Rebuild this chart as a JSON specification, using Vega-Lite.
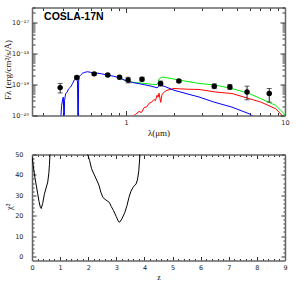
{
  "$schema": "https://vega.github.io/schema/vega-lite/v6.json",
  "padding": {"left": 3, "top": 4.5, "right": 2, "bottom": 2},
  "bounds": "flush",
  "spacing": 39,
  "config": {
    "view": {"stroke": null},
    "axis": {
      "grid": false,
      "labelFont": "DejaVu Sans",
      "labelFontSize": 6.5,
      "labelColor": "#222",
      "labelFlush": false,
      "labelOverlap": false,
      "titleFont": "Liberation Serif",
      "titleFontSize": 9,
      "titleFontWeight": "normal",
      "titleColor": "#111",
      "domainColor": "#666",
      "domainWidth": 1.5,
      "tickColor": "#333",
      "tickWidth": 1
    }
  },
  "datasets": {
    "label": [
      {"lam": 0.305, "F": 1.5e-17, "name": "COSLA-17N"}
    ],
    "sed": [
      {"comp": "green", "lam": 0.9, "F": 1.66e-19},
      {"comp": "green", "lam": 1.0, "F": 1.32e-19},
      {"comp": "green", "lam": 1.123, "F": 1.16e-19},
      {"comp": "green", "lam": 1.298, "F": 1.08e-19},
      {"comp": "green", "lam": 1.5, "F": 1.0e-19},
      {"comp": "green", "lam": 1.567, "F": 9.8e-20},
      {"comp": "green", "lam": 1.6, "F": 1.2e-19},
      {"comp": "green", "lam": 1.612, "F": 1.49e-19},
      {"comp": "green", "lam": 1.684, "F": 1.73e-19},
      {"comp": "green", "lam": 1.864, "F": 1.6e-19},
      {"comp": "green", "lam": 2.155, "F": 1.38e-19},
      {"comp": "green", "lam": 2.877, "F": 1.08e-19},
      {"comp": "green", "lam": 3.66, "F": 9.5e-20},
      {"comp": "green", "lam": 4.64, "F": 7.4e-20},
      {"comp": "green", "lam": 5.94, "F": 5.1e-20},
      {"comp": "green", "lam": 7.04, "F": 3.5e-20},
      {"comp": "green", "lam": 8.74, "F": 2.12e-20},
      {"comp": "green", "lam": 9.5, "F": 1.4e-20},
      {"comp": "green", "lam": 9.86, "F": 1.14e-20},
      {"comp": "green", "lam": 10.0, "F": 8e-21},
      {"comp": "red", "lam": 1.09, "F": 9e-21},
      {"comp": "red", "lam": 1.15, "F": 1.1e-20},
      {"comp": "red", "lam": 1.207, "F": 1.35e-20},
      {"comp": "red", "lam": 1.25, "F": 1.25e-20},
      {"comp": "red", "lam": 1.3, "F": 1.8e-20},
      {"comp": "red", "lam": 1.35, "F": 1.9e-20},
      {"comp": "red", "lam": 1.395, "F": 2.46e-20},
      {"comp": "red", "lam": 1.45, "F": 2.7e-20},
      {"comp": "red", "lam": 1.5, "F": 3.3e-20},
      {"comp": "red", "lam": 1.53, "F": 3.0e-20},
      {"comp": "red", "lam": 1.567, "F": 4.5e-20},
      {"comp": "red", "lam": 1.59, "F": 3.9e-20},
      {"comp": "red", "lam": 1.612, "F": 5.2e-20},
      {"comp": "red", "lam": 1.652, "F": 2.65e-20},
      {"comp": "red", "lam": 1.684, "F": 4.8e-20},
      {"comp": "red", "lam": 1.75, "F": 5.8e-20},
      {"comp": "red", "lam": 1.81, "F": 6.5e-20},
      {"comp": "red", "lam": 2.003, "F": 7.4e-20},
      {"comp": "red", "lam": 2.2, "F": 7.2e-20},
      {"comp": "red", "lam": 2.49, "F": 7.0e-20},
      {"comp": "red", "lam": 2.877, "F": 6.9e-20},
      {"comp": "red", "lam": 3.66, "F": 5.7e-20},
      {"comp": "red", "lam": 4.64, "F": 5.1e-20},
      {"comp": "red", "lam": 5.94, "F": 3.5e-20},
      {"comp": "red", "lam": 7.04, "F": 2.71e-20},
      {"comp": "red", "lam": 8.74, "F": 1.65e-20},
      {"comp": "red", "lam": 9.6, "F": 1e-20},
      {"comp": "red", "lam": 10.0, "F": 7e-21},
      {"comp": "blue", "lam": 0.379, "F": 1e-21},
      {"comp": "blue", "lam": 0.393, "F": 2.1e-20},
      {"comp": "blue", "lam": 0.4, "F": 3.5e-20},
      {"comp": "blue", "lam": 0.403, "F": 3.9e-20},
      {"comp": "blue", "lam": 0.405, "F": 1.5e-20},
      {"comp": "blue", "lam": 0.407, "F": 1e-21},
      {"comp": "blue", "lam": 0.41, "F": 3e-20},
      {"comp": "blue", "lam": 0.417, "F": 5.1e-20},
      {"comp": "blue", "lam": 0.425, "F": 5.5e-20},
      {"comp": "blue", "lam": 0.435, "F": 7.2e-20},
      {"comp": "blue", "lam": 0.449, "F": 8.4e-20},
      {"comp": "blue", "lam": 0.46, "F": 1.05e-19},
      {"comp": "blue", "lam": 0.471, "F": 1.38e-19},
      {"comp": "blue", "lam": 0.48, "F": 1.45e-19},
      {"comp": "blue", "lam": 0.49, "F": 1.57e-19},
      {"comp": "blue", "lam": 0.495, "F": 1.2e-19},
      {"comp": "blue", "lam": 0.499, "F": 1e-21},
      {"comp": "blue", "lam": 0.503, "F": 1.2e-19},
      {"comp": "blue", "lam": 0.506, "F": 1.77e-19},
      {"comp": "blue", "lam": 0.52, "F": 2.05e-19},
      {"comp": "blue", "lam": 0.531, "F": 2.28e-19},
      {"comp": "blue", "lam": 0.55, "F": 2.45e-19},
      {"comp": "blue", "lam": 0.571, "F": 2.57e-19},
      {"comp": "blue", "lam": 0.6, "F": 2.45e-19},
      {"comp": "blue", "lam": 0.629, "F": 2.39e-19},
      {"comp": "blue", "lam": 0.7, "F": 2.2e-19},
      {"comp": "blue", "lam": 0.763, "F": 2.01e-19},
      {"comp": "blue", "lam": 0.83, "F": 1.85e-19},
      {"comp": "blue", "lam": 0.904, "F": 1.66e-19},
      {"comp": "blue", "lam": 1.0, "F": 1.3e-19},
      {"comp": "blue", "lam": 1.1, "F": 1.15e-19},
      {"comp": "blue", "lam": 1.207, "F": 1.06e-19},
      {"comp": "blue", "lam": 1.3, "F": 9.8e-20},
      {"comp": "blue", "lam": 1.415, "F": 9.0e-20},
      {"comp": "blue", "lam": 1.567, "F": 7.8e-20},
      {"comp": "blue", "lam": 1.6, "F": 8.5e-20},
      {"comp": "blue", "lam": 1.612, "F": 1.02e-19},
      {"comp": "blue", "lam": 1.65, "F": 9.4e-20},
      {"comp": "blue", "lam": 1.734, "F": 8.8e-20},
      {"comp": "blue", "lam": 2.003, "F": 6.5e-20},
      {"comp": "blue", "lam": 2.49, "F": 4.8e-20},
      {"comp": "blue", "lam": 2.877, "F": 3.95e-20},
      {"comp": "blue", "lam": 3.57, "F": 2.71e-20},
      {"comp": "blue", "lam": 4.64, "F": 1.86e-20},
      {"comp": "blue", "lam": 5.94, "F": 1.14e-20},
      {"comp": "blue", "lam": 6.38, "F": 9e-21}
    ],
    "phot": [
      {"lam": 0.385, "F": 7.9e-20, "lo": 5.3e-20, "hi": 1.08e-19},
      {"lam": 0.49, "F": 1.66e-19, "lo": 1.5e-19, "hi": 1.85e-19},
      {"lam": 0.63, "F": 2.19e-19, "lo": 2.0e-19, "hi": 2.4e-19},
      {"lam": 0.767, "F": 2.0e-19, "lo": 1.83e-19, "hi": 2.18e-19},
      {"lam": 0.91, "F": 1.7e-19, "lo": 1.53e-19, "hi": 1.88e-19},
      {"lam": 1.03, "F": 1.38e-19, "lo": 1.12e-19, "hi": 1.7e-19},
      {"lam": 1.26, "F": 1.48e-19, "lo": 1.28e-19, "hi": 1.7e-19},
      {"lam": 1.65, "F": 1.07e-19, "lo": 8.9e-20, "hi": 1.28e-19},
      {"lam": 2.15, "F": 1.29e-19, "lo": 1.18e-19, "hi": 1.4e-19},
      {"lam": 3.59, "F": 8.7e-20, "lo": 7.3e-20, "hi": 1.04e-19},
      {"lam": 4.5, "F": 8.3e-20, "lo": 6.9e-20, "hi": 1.0e-19},
      {"lam": 5.77, "F": 5.75e-20, "lo": 3.2e-20, "hi": 8.8e-20},
      {"lam": 7.96, "F": 5.1e-20, "lo": 2.7e-20, "hi": 7.4e-20}
    ],
    "chi": [
      {"seg": "a", "z": 0, "chi2": 49},
      {"seg": "a", "z": 0.05, "chi2": 44},
      {"seg": "a", "z": 0.1, "chi2": 39},
      {"seg": "a", "z": 0.15, "chi2": 35},
      {"seg": "a", "z": 0.2, "chi2": 31},
      {"seg": "a", "z": 0.25, "chi2": 27},
      {"seg": "a", "z": 0.3, "chi2": 24},
      {"seg": "a", "z": 0.33, "chi2": 23.5},
      {"seg": "a", "z": 0.38, "chi2": 26},
      {"seg": "a", "z": 0.44, "chi2": 30.5},
      {"seg": "a", "z": 0.5, "chi2": 33.5},
      {"seg": "a", "z": 0.56, "chi2": 36.5},
      {"seg": "a", "z": 0.6, "chi2": 41},
      {"seg": "a", "z": 0.62, "chi2": 45},
      {"seg": "a", "z": 0.64, "chi2": 50},
      {"seg": "a", "z": 0.65, "chi2": 53},
      {"seg": "b", "z": 1.96, "chi2": 53},
      {"seg": "b", "z": 1.98, "chi2": 50},
      {"seg": "b", "z": 2.05, "chi2": 47},
      {"seg": "b", "z": 2.12, "chi2": 43},
      {"seg": "b", "z": 2.2, "chi2": 40.5},
      {"seg": "b", "z": 2.3, "chi2": 37.5},
      {"seg": "b", "z": 2.38, "chi2": 35},
      {"seg": "b", "z": 2.45, "chi2": 31.5},
      {"seg": "b", "z": 2.52, "chi2": 29},
      {"seg": "b", "z": 2.6, "chi2": 28},
      {"seg": "b", "z": 2.7, "chi2": 27},
      {"seg": "b", "z": 2.75, "chi2": 26.5},
      {"seg": "b", "z": 2.82, "chi2": 24.5},
      {"seg": "b", "z": 2.9, "chi2": 22.5},
      {"seg": "b", "z": 3.0, "chi2": 19.5},
      {"seg": "b", "z": 3.08, "chi2": 17},
      {"seg": "b", "z": 3.12, "chi2": 16.8},
      {"seg": "b", "z": 3.2, "chi2": 18.5},
      {"seg": "b", "z": 3.3, "chi2": 21.5},
      {"seg": "b", "z": 3.38, "chi2": 25},
      {"seg": "b", "z": 3.45, "chi2": 29},
      {"seg": "b", "z": 3.52, "chi2": 32},
      {"seg": "b", "z": 3.6, "chi2": 34},
      {"seg": "b", "z": 3.7, "chi2": 35.5},
      {"seg": "b", "z": 3.75, "chi2": 37.5},
      {"seg": "b", "z": 3.8, "chi2": 42},
      {"seg": "b", "z": 3.84, "chi2": 50},
      {"seg": "b", "z": 3.85, "chi2": 53}
    ]
  },
  "vconcat": [
    {
      "width": 253,
      "height": 108,
      "resolve": {"scale": {"x": "independent", "y": "independent"}, "axis": {"x": "independent", "y": "independent"}},
      "layer": [
        {
          "layer": [
            {
              "data": {"name": "sed"},
              "transform": [{"filter": "datum.comp == 'green'"}],
              "mark": {"type": "line", "color": "#00ee00", "strokeWidth": 1, "clip": true},
              "encoding": {
                "x": {"field": "lam", "type": "quantitative", "scale": {"type": "log", "domain": [0.256, 10], "nice": false},
                  "axis": {"orient": "bottom", "title": "λ(μm)", "values": [0.3, 0.4, 0.5, 0.6, 0.7, 0.8, 0.9, 1, 2, 3, 4, 5, 6, 7, 8, 9, 10],
                    "labelExpr": "abs(log(datum.value)/LN10 - round(log(datum.value)/LN10)) < 0.01 ? '' + datum.value : ''",
                    "tickSize": {"condition": {"test": "abs(log(datum.value)/LN10 - round(log(datum.value)/LN10)) < 0.01", "value": -5}, "value": -3},
                    "labelPadding": 9, "titleY": 17, "titleBaseline": "middle"}},
                "y": {"field": "F", "type": "quantitative", "scale": {"type": "log", "domain": [1e-20, 3e-17], "nice": false},
                  "axis": {"orient": "left", "title": "Fλ (erg/cm²/s/Å)",
                    "values": [1e-20, 2e-20, 3e-20, 4e-20, 5e-20, 6e-20, 7e-20, 8e-20, 9e-20, 1e-19, 2e-19, 3e-19, 4e-19, 5e-19, 6e-19, 7e-19, 8e-19, 9e-19, 1e-18, 2e-18, 3e-18, 4e-18, 5e-18, 6e-18, 7e-18, 8e-18, 9e-18, 1e-17, 2e-17, 3e-17],
                    "labelExpr": "abs(log(datum.value)/LN10 - round(log(datum.value)/LN10)) > 0.01 ? '' : round(log(datum.value)/LN10) == -17 ? '10⁻¹⁷' : round(log(datum.value)/LN10) == -18 ? '10⁻¹⁸' : round(log(datum.value)/LN10) == -19 ? '10⁻¹⁹' : '10⁻²⁰'",
                    "tickSize": {"condition": {"test": "abs(log(datum.value)/LN10 - round(log(datum.value)/LN10)) < 0.01", "value": -5}, "value": -3},
                    "labelPadding": 8.5, "titleX": -25, "titleY": 62, "titleBaseline": "middle"}}
              }
            },
            {
              "data": {"name": "sed"},
              "transform": [{"filter": "datum.comp == 'red'"}],
              "mark": {"type": "line", "color": "#ff0000", "strokeWidth": 1, "clip": true},
              "encoding": {
                "x": {"field": "lam", "type": "quantitative"},
                "y": {"field": "F", "type": "quantitative"}
              }
            },
            {
              "data": {"name": "sed"},
              "transform": [{"filter": "datum.comp == 'blue'"}],
              "mark": {"type": "line", "color": "#0000ff", "strokeWidth": 1, "clip": true},
              "encoding": {
                "x": {"field": "lam", "type": "quantitative"},
                "y": {"field": "F", "type": "quantitative"}
              }
            },
            {
              "data": {"name": "phot"},
              "mark": {"type": "rule", "color": "#222", "strokeWidth": 1},
              "encoding": {
                "x": {"field": "lam", "type": "quantitative"},
                "y": {"field": "lo", "type": "quantitative"},
                "y2": {"field": "hi"}
              }
            },
            {
              "data": {"name": "phot"},
              "mark": {"type": "tick", "orient": "horizontal", "color": "#222", "size": 5, "thickness": 1},
              "encoding": {
                "x": {"field": "lam", "type": "quantitative"},
                "y": {"field": "lo", "type": "quantitative"}
              }
            },
            {
              "data": {"name": "phot"},
              "mark": {"type": "tick", "orient": "horizontal", "color": "#222", "size": 5, "thickness": 1},
              "encoding": {
                "x": {"field": "lam", "type": "quantitative"},
                "y": {"field": "hi", "type": "quantitative"}
              }
            },
            {
              "data": {"name": "phot"},
              "mark": {"type": "circle", "color": "#000", "size": 30, "opacity": 1},
              "encoding": {
                "x": {"field": "lam", "type": "quantitative"},
                "y": {"field": "F", "type": "quantitative"}
              }
            },
            {
              "data": {"name": "label"},
              "mark": {"type": "text", "align": "left", "baseline": "middle", "font": "Liberation Sans", "fontSize": 10.5, "fontWeight": "bold", "color": "#000"},
              "encoding": {
                "x": {"field": "lam", "type": "quantitative"},
                "y": {"field": "F", "type": "quantitative"},
                "text": {"field": "name"}
              }
            }
          ]
        },
        {
          "data": {"name": "phot"},
          "mark": {"type": "point", "opacity": 0},
          "encoding": {
            "x": {"field": "lam", "type": "quantitative", "scale": {"type": "log", "domain": [0.256, 10], "nice": false},
              "axis": {"orient": "top", "title": null, "labels": false, "values": [0.3, 0.4, 0.5, 0.6, 0.7, 0.8, 0.9, 1, 2, 3, 4, 5, 6, 7, 8, 9, 10],
                "tickSize": {"condition": {"test": "abs(log(datum.value)/LN10 - round(log(datum.value)/LN10)) < 0.01", "value": -5}, "value": -3}}},
            "y": {"field": "F", "type": "quantitative", "scale": {"type": "log", "domain": [1e-20, 3e-17], "nice": false},
              "axis": {"orient": "right", "title": null, "labels": false,
                "values": [1e-20, 2e-20, 3e-20, 4e-20, 5e-20, 6e-20, 7e-20, 8e-20, 9e-20, 1e-19, 2e-19, 3e-19, 4e-19, 5e-19, 6e-19, 7e-19, 8e-19, 9e-19, 1e-18, 2e-18, 3e-18, 4e-18, 5e-18, 6e-18, 7e-18, 8e-18, 9e-18, 1e-17, 2e-17, 3e-17],
                "tickSize": {"condition": {"test": "abs(log(datum.value)/LN10 - round(log(datum.value)/LN10)) < 0.01", "value": -5}, "value": -3}}}
          }
        }
      ]
    },
    {
      "width": 253,
      "height": 106,
      "resolve": {"scale": {"x": "independent", "y": "independent"}, "axis": {"x": "independent", "y": "independent"}},
      "layer": [
        {
          "data": {"name": "chi"},
          "mark": {"type": "line", "color": "#000", "strokeWidth": 1, "clip": true},
          "encoding": {
            "x": {"field": "z", "type": "quantitative", "scale": {"domain": [0, 9], "nice": false, "zero": false},
              "axis": {"orient": "bottom", "title": "z",
                "values": [0, 0.2, 0.4, 0.6, 0.8, 1, 1.2, 1.4, 1.6, 1.8, 2, 2.2, 2.4, 2.6, 2.8, 3, 3.2, 3.4, 3.6, 3.8, 4, 4.2, 4.4, 4.6, 4.8, 5, 5.2, 5.4, 5.6, 5.8, 6, 6.2, 6.4, 6.6, 6.8, 7, 7.2, 7.4, 7.6, 7.8, 8, 8.2, 8.4, 8.6, 8.8, 9],
                "labelExpr": "datum.value % 1 == 0 ? '' + datum.value : ''",
                "tickSize": {"condition": {"test": "datum.value % 1 == 0", "value": -4}, "value": -2},
                "labelPadding": 8, "titleY": 16.5, "titleBaseline": "middle", "titleFontSize": 8}},
            "y": {"field": "chi2", "type": "quantitative", "scale": {"domain": [-2, 50], "nice": false, "zero": false},
              "axis": {"orient": "left", "title": "χ²",
                "values": [0, 2, 4, 6, 8, 10, 12, 14, 16, 18, 20, 22, 24, 26, 28, 30, 32, 34, 36, 38, 40, 42, 44, 46, 48, 50],
                "labelExpr": "datum.value % 10 == 0 ? '' + datum.value : ''",
                "tickSize": {"condition": {"test": "datum.value % 10 == 0", "value": -4}, "value": -2},
                "labelPadding": 13, "titleX": -24, "titleY": 52, "titleBaseline": "middle"}},
            "detail": {"field": "seg"}
          }
        },
        {
          "data": {"name": "chi"},
          "mark": {"type": "point", "opacity": 0},
          "encoding": {
            "x": {"field": "z", "type": "quantitative", "scale": {"domain": [0, 9], "nice": false, "zero": false},
              "axis": {"orient": "top", "title": null, "labels": false,
                "values": [0, 0.2, 0.4, 0.6, 0.8, 1, 1.2, 1.4, 1.6, 1.8, 2, 2.2, 2.4, 2.6, 2.8, 3, 3.2, 3.4, 3.6, 3.8, 4, 4.2, 4.4, 4.6, 4.8, 5, 5.2, 5.4, 5.6, 5.8, 6, 6.2, 6.4, 6.6, 6.8, 7, 7.2, 7.4, 7.6, 7.8, 8, 8.2, 8.4, 8.6, 8.8, 9],
                "tickSize": {"condition": {"test": "datum.value % 1 == 0", "value": -4}, "value": -2}}},
            "y": {"field": "chi2", "type": "quantitative", "scale": {"domain": [-2, 50], "nice": false, "zero": false},
              "axis": {"orient": "right", "title": null, "labels": false,
                "values": [0, 2, 4, 6, 8, 10, 12, 14, 16, 18, 20, 22, 24, 26, 28, 30, 32, 34, 36, 38, 40, 42, 44, 46, 48, 50],
                "tickSize": {"condition": {"test": "datum.value % 10 == 0", "value": -4}, "value": -2}}}
          }
        }
      ]
    }
  ]
}
